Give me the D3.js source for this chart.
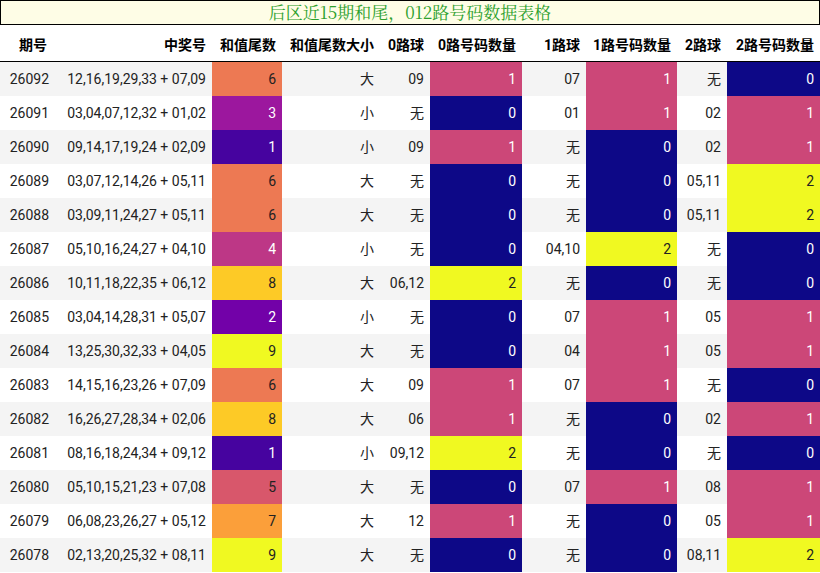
<!DOCTYPE html>
<html><head><meta charset="utf-8">
<script src="https://cdn.jsdelivr.net/npm/d3@7"></script>
<style>body{margin:0;background:#fff}</style>
</head><body><div id="chart"></div>
<script>
// table data, newest first
var periods = ["26092","26091","26090","26089","26088","26087","26086","26085","26084","26083","26082","26081","26080","26079","26078"];
var draws = ["12,16,19,29,33 + 07,09","03,04,07,12,32 + 01,02","09,14,17,19,24 + 02,09","03,07,12,14,26 + 05,11","03,09,11,24,27 + 05,11","05,10,16,24,27 + 04,10","10,11,18,22,35 + 06,12","03,04,14,28,31 + 05,07","13,25,30,32,33 + 04,05","14,15,16,23,26 + 07,09","16,26,27,28,34 + 02,06","08,16,18,24,34 + 09,12","05,10,15,21,23 + 07,08","06,08,23,26,27 + 05,12","02,13,20,25,32 + 08,11"];
var tails = [6,3,1,6,6,4,8,2,9,6,8,1,5,7,9];
var sizes = ["大","小","小","大","大","小","大","小","大","大","大","小","大","大","大"];
var road0 = ["09","无","09","无","无","无","06,12","无","无","09","06","09,12","无","12","无"];
var count0 = [1,0,1,0,0,0,2,0,0,1,1,2,0,1,0];
var road1 = ["07","01","无","无","无","04,10","无","07","04","07","无","无","07","无","无"];
var count1 = [1,1,0,0,0,2,0,1,1,1,0,0,1,0,0];
var road2 = ["无","02","02","05,11","05,11","无","无","05","05","无","02","无","08","05","08,11"];
var count2 = [0,1,1,2,2,0,0,1,1,0,1,0,1,1,2];
var headers = ["期号","中奖号","和值尾数","和值尾数大小","0路球","0路号码数量","1路球","1路号码数量","2路球","2路号码数量"];

var W = 820, H = 573;
var colX = [0,55,212,282,380,430,522,586,677,727,820];
var headTop = 26, rowTop = 62, rowH = 34;

var svg = d3.select("#chart").append("svg").attr("width", W).attr("height", H)
    .style("font-family", "Roboto, 'Noto Sans CJK SC', sans-serif");

// title box
svg.append("rect").attr("x", 0.5).attr("y", 0.5).attr("width", W - 1).attr("height", 24)
    .attr("fill", "#fefde6").attr("stroke", "#000");
svg.append("text").attr("x", W / 2).attr("y", 19).attr("text-anchor", "middle")
    .attr("font-family", "'Noto Serif CJK SC', 'Noto Sans CJK SC', serif")
    .attr("font-size", 17).attr("fill", "#2ca02c")
    .text("后区近15期和尾，012路号码数据表格");

// headers
headers.forEach(function(h, i) {
    svg.append("text")
        .attr("x", i == 0 ? 33 : colX[i + 1] - 6).attr("y", 50)
        .attr("text-anchor", i == 0 ? "middle" : "end")
        .attr("font-size", 14).attr("font-weight", "bold")
        .text(h);
});

var y = d3.scaleBand().domain(periods).range([rowTop, rowTop + rowH * periods.length]);
var tailColor = function(v) { return d3.interpolatePlasma(v / 9); };
var countColor = function(v) { return d3.interpolatePlasma(v / 2); };

var rows = svg.selectAll("g.row").data(periods).enter().append("g")
    .attr("transform", d => "translate(0," + y(d) + ")");

rows.append("rect").attr("width", W).attr("height", rowH)
    .attr("fill", (d, i) => i % 2 == 0 ? "#f4f4f4" : "#fff");

function cell(col, values, colorFn) {
    rows.each(function(d, i) {
        var g = d3.select(this), v = values[i], fill = null;
        if (colorFn) {
            fill = colorFn(v);
            g.append("rect").attr("x", colX[col]).attr("width", colX[col + 1] - colX[col])
                .attr("height", rowH).attr("fill", fill);
        }
        var light = fill ? d3.hsl(fill).l > 0.55 : true;
        g.append("text")
            .attr("x", colX[col + 1] - 6).attr("y", rowH / 2 + 5)
            .attr("text-anchor", "end").attr("font-size", 14)
            .attr("fill", fill && !light ? "#fff" : "#222")
            .text(v);
    });
}

cell(0, periods);
cell(1, draws);
cell(2, tails, tailColor);
cell(3, sizes);
cell(4, road0);
cell(5, count0, countColor);
cell(6, road1);
cell(7, count1, countColor);
cell(8, road2);
cell(9, count2, countColor);

svg.append("line").attr("x1", 0).attr("x2", W).attr("y1", rowTop - 0.5).attr("y2", rowTop - 0.5)
    .attr("stroke", "#000");
</script></body></html>
